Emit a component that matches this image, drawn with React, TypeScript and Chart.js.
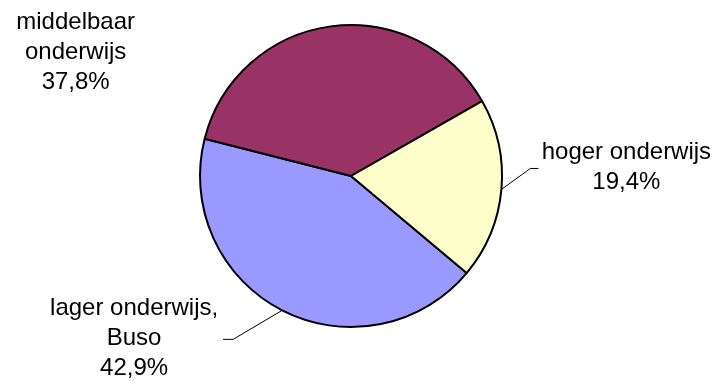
import React, { useEffect, useRef } from "react";
import { Chart, registerables } from "chart.js";

Chart.register(...registerables);

const categories = ["lager onderwijs,\nBuso", "middelbaar\nonderwijs", "hoger onderwijs"];
const shares = [42.9, 37.8, 19.4];
const colors = ["#9999FF", "#993366", "#FFFFCC"];
// label offsets relative to the slice's outer-edge midpoint: [dx, dy of first baseline]
const labelOffsets = [
  [-148, 5],
  [-255, 3],
  [125, -30],
];
// leader lines: [elbow dx, elbow dy, end dx] relative to slice edge midpoint (null = none)
const leaders: (number[] | null)[] = [
  [-49, 29, -59],
  null,
  [29, -21, 37],
];

const labelPlugin = {
  id: "outerLabels",
  afterDraw(chart: any) {
    const ctx = chart.ctx;
    const meta = chart.getDatasetMeta(0);
    const data = chart.data.datasets[0].data as number[];
    const total = data.reduce((a, b) => a + b, 0);
    ctx.save();
    ctx.font = "24px 'Liberation Sans', Arial, sans-serif";
    ctx.fillStyle = "#000";
    ctx.textAlign = "center";
    ctx.textBaseline = "alphabetic";
    meta.data.forEach((arc: any, i: number) => {
      const { x, y, startAngle, endAngle, outerRadius } = arc.getProps(
        ["x", "y", "startAngle", "endAngle", "outerRadius"],
        true
      );
      const mid = (startAngle + endAngle) / 2;
      const ax = x + Math.cos(mid) * outerRadius;
      const ay = y + Math.sin(mid) * outerRadius;
      const ld = leaders[i];
      if (ld) {
        ctx.beginPath();
        ctx.strokeStyle = "#000";
        ctx.lineWidth = 1;
        ctx.moveTo(ax, ay);
        ctx.lineTo(ax + ld[0], ay + ld[1]);
        ctx.lineTo(ax + ld[2], ay + ld[1]);
        ctx.stroke();
      }
      const pct = ((data[i] / total) * 100).toFixed(1).replace(".", ",") + "%";
      const lines = [...(chart.data.labels[i] as string).split("\n"), pct];
      const [dx, dy] = labelOffsets[i];
      lines.forEach((ln, k) => {
        ctx.fillText(ln, ax + dx, ay + dy + k * 30);
      });
    });
    ctx.restore();
  },
};

export default function App() {
  const ref = useRef<HTMLCanvasElement>(null);
  useEffect(() => {
    if (!ref.current) return;
    const chart = new Chart(ref.current, {
      type: "pie",
      data: {
        labels: categories,
        datasets: [
          {
            data: shares,
            backgroundColor: colors,
            borderColor: "#000",
            borderWidth: 2,
          },
        ],
      },
      options: {
        animation: false,
        responsive: false,
        rotation: 130,
        radius: 151,
        layout: { padding: { left: 200, right: 212, top: 25, bottom: 54 } },
        plugins: {
          legend: { display: false },
          tooltip: { enabled: false },
        },
      },
      plugins: [labelPlugin],
    });
    return () => chart.destroy();
  }, []);
  return (
    <div style={{ position: "fixed", left: 0, top: 0, width: 714, height: 381, background: "#fff" }}>
      <canvas ref={ref} width={714} height={381} style={{ width: 714, height: 381 }} />
    </div>
  );
}
